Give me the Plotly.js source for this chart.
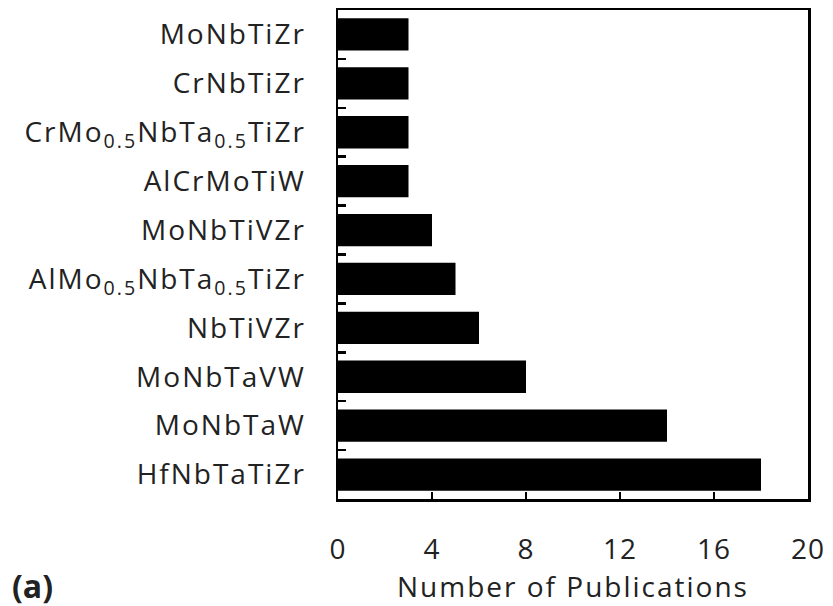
<!DOCTYPE html>
<html>
<head>
<meta charset="utf-8">
<script src="https://cdn.plot.ly/plotly-3.0.1.min.js"></script>
<style>
  html, body { margin: 0; padding: 0; background: #fff; }
  #chart { width: 833px; height: 606px; }
  /* slightly wider letter spacing for the axis texts */
  #chart .ytick text, #chart .g-xtitle text { letter-spacing: 2px; }
  #chart .xtick text { letter-spacing: 1px; }
</style>
</head>
<body>
<div id="chart"></div>
<script>
// Alloy compositions, listed from top to bottom of the chart
const alloys = [
  'MoNbTiZr',
  'CrNbTiZr',
  'CrMo<sub>0.5</sub>NbTa<sub>0.5</sub>TiZr',
  'AlCrMoTiW',
  'MoNbTiVZr',
  'AlMo<sub>0.5</sub>NbTa<sub>0.5</sub>TiZr',
  'NbTiVZr',
  'MoNbTaVW',
  'MoNbTaW',
  'HfNbTaTiZr'
];

// Number of publications for each alloy
const publications = [3, 3, 3, 3, 4, 5, 6, 8, 14, 18];

// Tick values on the publication axis
const xTicks = [0, 4, 8, 12, 16, 20];

const fontFamily = '"Open Sans", Lato, sans-serif';
const textColor = '#222222';

const trace = {
  type: 'bar',
  orientation: 'h',
  y: alloys,
  x: publications,
  width: 0.66,
  marker: { color: '#000000', line: { width: 0 } },
  hoverinfo: 'x+y'
};

const layout = {
  width: 833,
  height: 606,
  margin: { l: 338, r: 25, t: 10, b: 107 },
  paper_bgcolor: '#ffffff',
  plot_bgcolor: '#ffffff',
  showlegend: false,
  font: { family: fontFamily, color: textColor },
  xaxis: {
    range: [0, 20],
    tickvals: xTicks,
    ticktext: xTicks.map(String),
    ticks: 'inside',
    ticklen: 7,
    tickwidth: 2,
    tickcolor: '#000',
    ticklabelstandoff: 24,
    tickfont: { size: 28, family: fontFamily, color: textColor },
    showgrid: false,
    zeroline: false,
    showline: true,
    linecolor: '#000',
    linewidth: 2.5,
    mirror: true,
    title: {
      text: 'Number of Publications',
      font: { size: 28, family: fontFamily, color: textColor },
      standoff: 4
    }
  },
  yaxis: {
    type: 'category',
    autorange: 'reversed',
    tickson: 'boundaries',
    ticks: 'inside',
    ticklen: 8,
    tickwidth: 2.5,
    tickcolor: '#000',
    ticklabelstandoff: 24,
    tickfont: { size: 28, family: fontFamily, color: textColor },
    showgrid: false,
    zeroline: false,
    showline: true,
    linecolor: '#000',
    linewidth: 2.5,
    mirror: true
  },
  annotations: [
    {
      text: '<b>(a)</b>',
      xref: 'paper', yref: 'paper',
      x: -0.698, y: -0.176,
      xanchor: 'left', yanchor: 'middle',
      showarrow: false,
      font: { size: 32, family: fontFamily, color: textColor }
    }
  ]
};

Plotly.newPlot('chart', [trace], layout, { staticPlot: true, displayModeBar: false });
</script>
</body>
</html>
